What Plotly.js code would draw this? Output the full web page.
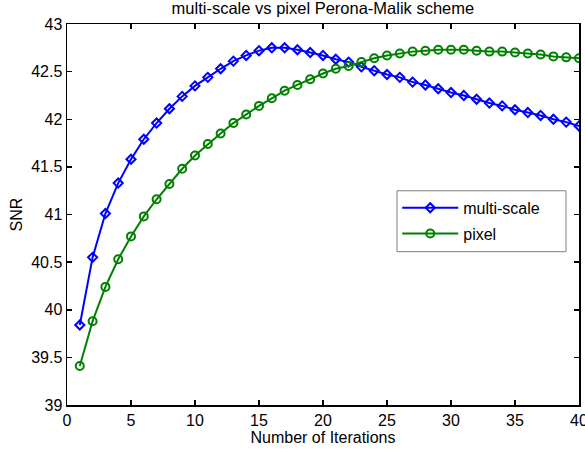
<!DOCTYPE html>
<html>
<head>
<meta charset="utf-8">
<script src="https://cdn.plot.ly/plotly-3.0.1.min.js"></script>
<style>html,body{margin:0;padding:0;background:#fff;}#chart{width:585px;height:455px;}</style>
</head>
<body>
<div id="chart"></div>
<script>
const iterations = [1,2,3,4,5,6,7,8,9,10,11,12,13,14,15,16,17,18,19,20,21,22,23,24,25,26,27,28,29,30,31,32,33,34,35,36,37,38,39,40];
const multiScale = [39.84,40.55,41.01,41.33,41.58,41.79,41.96,42.11,42.24,42.35,42.44,42.53,42.61,42.67,42.72,42.75,42.75,42.73,42.70,42.67,42.63,42.60,42.55,42.51,42.47,42.44,42.39,42.36,42.32,42.28,42.25,42.21,42.17,42.14,42.10,42.07,42.04,42.00,41.97,41.93];
const pixel = [39.41,39.88,40.24,40.53,40.77,40.98,41.16,41.32,41.48,41.62,41.74,41.85,41.96,42.05,42.14,42.22,42.30,42.36,42.42,42.48,42.53,42.56,42.60,42.64,42.67,42.69,42.71,42.72,42.73,42.73,42.73,42.72,42.71,42.71,42.70,42.69,42.68,42.66,42.65,42.64];
const seriesNames = ['multi-scale', 'pixel'];
const xTicks = [0,5,10,15,20,25,30,35,40];
const yTicks = [39,39.5,40,40.5,41,41.5,42,42.5,43];
const yTickText = ['39','39.5','40','40.5','41','41.5','42','42.5','43'];

const FONT = 'Liberation Sans, Arial, sans-serif';

const traces = [
  {
    x: iterations, y: multiScale, name: seriesNames[0], type: 'scatter', mode: 'lines+markers',
    legendgroup: 'a',
    line: {color: '#0000ff', width: 2},
    marker: {symbol: 'diamond-open', size: 7, color: '#0000ff', line: {color: '#0000ff', width: 2}}
  },
  {
    x: iterations, y: pixel, name: seriesNames[1], type: 'scatter', mode: 'lines+markers',
    legendgroup: 'b',
    line: {color: '#008000', width: 2},
    marker: {symbol: 'circle-open', size: 8, color: '#008000', line: {color: '#008000', width: 2}}
  }
];

const axisCommon = {
  showgrid: false, zeroline: false, showline: true, linecolor: '#000', linewidth: 1.5,
  mirror: 'ticks', ticks: 'inside', ticklen: 5, tickwidth: 1.5, tickcolor: '#000',
  tickfont: {family: FONT, size: 16, color: '#000'}, automargin: false, ticklabeloverflow: 'allow'
};

const layout = {
  width: 585, height: 455,
  paper_bgcolor: '#fff', plot_bgcolor: '#fff',
  margin: {l: 67, r: 6, t: 24, b: 49.5, pad: 0},
  font: {family: FONT, size: 16, color: '#000'},
  title: {text: 'multi-scale vs pixel Perona-Malik scheme', font: {family: FONT, size: 16.5, color: '#000'},
          x: 0.552, xanchor: 'center', y: 0.981, yanchor: 'middle', yref: 'container'},
  xaxis: Object.assign({}, axisCommon, {
    range: [0, 40], tickvals: xTicks, ticktext: xTicks.map(String),
    title: {text: 'Number of Iterations', font: {family: FONT, size: 16, color: '#000'}, standoff: 2}
  }),
  yaxis: Object.assign({}, axisCommon, {
    range: [39, 43], tickvals: yTicks, ticktext: yTickText,
    title: {text: 'SNR', font: {family: FONT, size: 16, color: '#000'}, standoff: 4}
  }),
  shapes: [{
    type: 'rect', xref: 'paper', yref: 'paper', layer: 'above',
    x0: 0.6445, x1: 0.9746, y0: 0.4024, y1: 0.5623,
    fillcolor: '#fff', line: {color: '#7f7f7f', width: 1}
  }],
  showlegend: true,
  legend: {x: 0.645, y: 0.562, xanchor: 'left', yanchor: 'top', bgcolor: 'rgba(0,0,0,0)', borderwidth: 0,
           font: {family: FONT, size: 16, color: '#000'}, itemwidth: 56, traceorder: 'grouped', tracegroupgap: 2}
};

Plotly.newPlot('chart', traces, layout, {displayModeBar: false, staticPlot: true});
</script>
</body>
</html>
